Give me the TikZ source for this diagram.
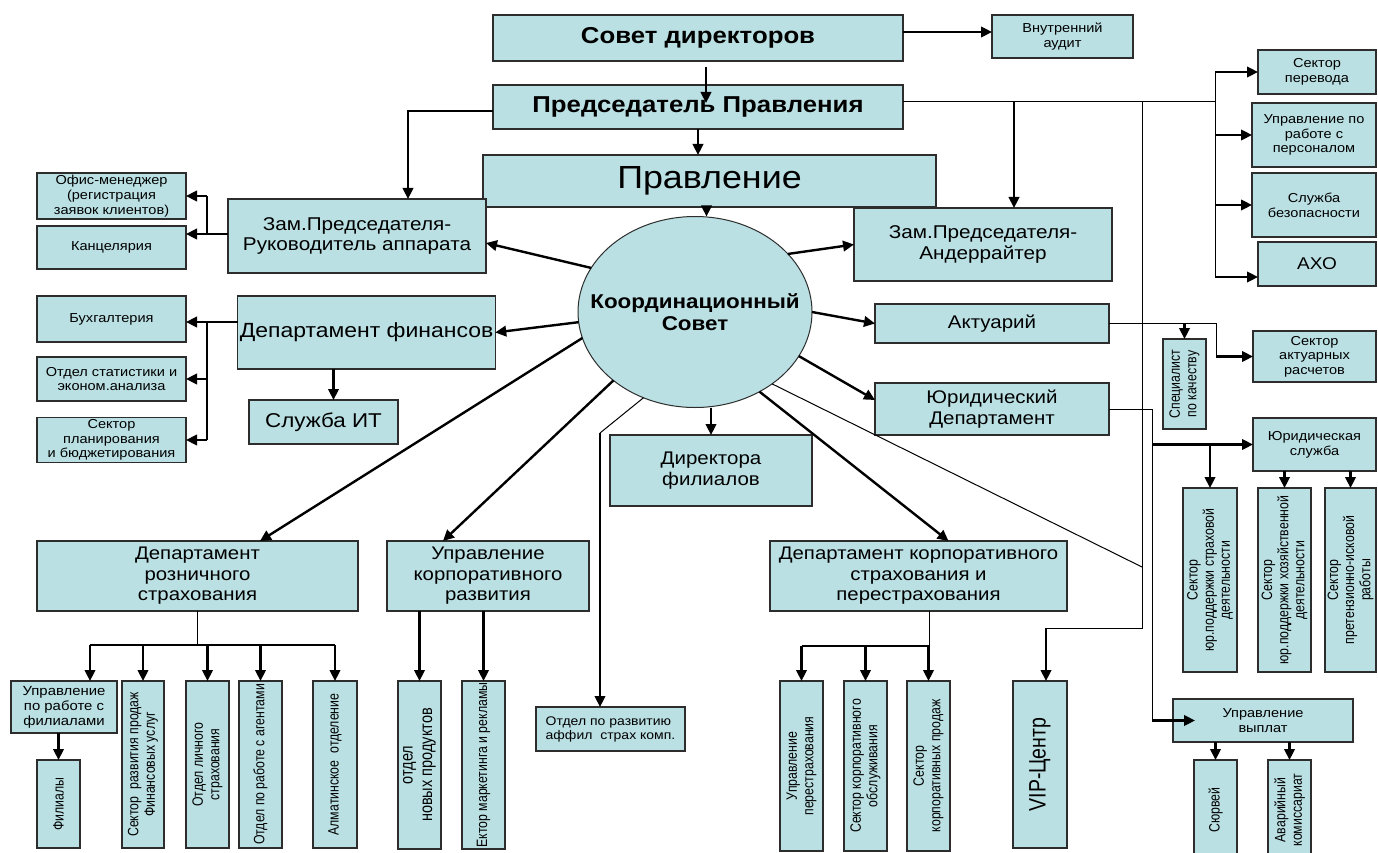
\documentclass[tikz,border=0pt]{standalone}
\usepackage{fontspec}
\setmainfont{Liberation Sans}[FakeStretch=1.12]
\newfontfamily\vfont{Liberation Sans}
\usetikzlibrary{arrows.meta,shapes.geometric}
\definecolor{boxfill}{RGB}{186,224,227}
\definecolor{edge}{RGB}{45,45,45}
\newcommand\fs[1]{\fontsize{#1}{\fpeval{#1*1.13}}\selectfont}
\newcommand\vfs[1]{\vfont\fontsize{#1}{\fpeval{#1*1.1}}\selectfont}
\tikzset{
  orgbox/.style={draw=edge, line width=1.2pt, fill=boxfill, inner sep=2pt, outer sep=0pt, align=center, font=\fs{13}},
  vtext/.style={rotate=90, yscale=1.22, align=center, inner sep=0pt, font=\vfs{12.3}},
  arr/.style={line width=2.4pt, -{Triangle[length=11pt,width=10.5pt]}},
  thinln/.style={line width=1pt},
  medln/.style={line width=1.6pt},
  thickln/.style={line width=2.4pt},
}
\newcommand\bx[7][]{\node[orgbox,#1,minimum width={#5-#3},minimum height={#6-#4}] (#2) at ({(#3+#5)/2},{(#4+#6)/2}) {#7};}
\newcommand\vbx[7][]{\node[orgbox,minimum width={#5-#3},minimum height={#6-#4}] (#2) at ({(#3+#5)/2},{(#4+#6)/2}) {};
  \node[vtext,#1] (#2-t) at (#2) {#7};}
\begin{document}
\begin{tikzpicture}[x=1pt,y=-1pt]
\fill[white] (0,0) rectangle (1378,853);
\useasboundingbox (0,0) rectangle (1378,853);
% top
\bx[font=\fs{23}\bfseries]{sov}{493}{15}{903}{61}{Совет директоров}
\bx{vaud}{992}{15}{1133}{58}{Внутренний\\аудит}
\bx[font=\fs{23}\bfseries]{pred}{493}{85}{903}{129}{Председатель Правления}
\bx[font=\fs{32}]{prav}{483}{155}{936}{207}{Правление}
\bx[font=\fs{18.5}]{zam1}{228}{199}{486}{273}{Зам.Председателя-\\Руководитель аппарата}
\bx[font=\fs{18.5}]{und}{854}{208}{1112}{281}{Зам.Председателя-\\Андеррайтер}
\bx{perev}{1258}{50}{1376}{94}{Сектор\\перевода}
\bx{pers}{1252}{103}{1376}{167}{Управление по\\работе с\\персоналом}
\bx{bez}{1252}{173}{1376}{237}{Служба\\безопасности}
\bx[font=\fs{17}]{axo}{1258}{242}{1376}{286}{АХО}
% left
\bx{ofis}{37}{173}{186}{219}{Офис-менеджер\\(регистрация\\заявок клиентов)}
\bx{kanc}{37}{226}{186}{269}{Канцелярия}
\bx{buh}{37}{296}{186}{342}{Бухгалтерия}
\bx{stat}{37}{357}{186}{401}{Отдел статистики и\\эконом.анализа}
\bx{plan}{37}{418}{186}{462}{Сектор\\планирования\\и бюджетирования}
\bx[font=\fs{20.5}]{depfin}{239}{296}{494}{369}{Департамент финансов}
\bx[font=\fs{20}]{it}{249}{400}{398}{444}{Служба ИТ}
% centre
\node[ellipse, draw=edge, line width=1pt, fill=boxfill, minimum width=234, minimum height=191, inner sep=0pt, outer sep=0pt] (kc) at (695,312) {};
\node[align=center, inner sep=0pt, font=\fs{20}\bfseries] (kc-t) at (kc) {Координационный\\Совет};
\bx[font=\fs{18.3}]{akt}{875}{304}{1109}{343}{Актуарий}
\bx[font=\fs{18.3}]{yur}{875}{383}{1109}{435}{Юридический\\Департамент}
\bx[font=\fs{18.3}]{dirf}{610}{435}{812}{506}{Директора\\филиалов}
% right
\vbx{spec}{1163}{339}{1206}{429}{Специалист\\по качеству}
\bx{sar}{1253}{331}{1376}{382}{Сектор\\актуарных\\расчетов}
\bx{jsl}{1253}{418}{1376}{471}{Юридическая\\служба}
\vbx[font=\vfont\fontsize{12.3}{13.2}\selectfont]{s1}{1183}{488}{1237}{672}{Сектор\\юр.поддержки страховой\\деятельности}
\vbx[font=\vfont\fontsize{12.3}{13.2}\selectfont]{s2}{1258}{488}{1311}{672}{Сектор\\юр.поддержки хозяйственной\\деятельности}
\vbx[font=\vfont\fontsize{12.3}{13.2}\selectfont]{s3}{1325}{488}{1376}{672}{Сектор\\претензионно-исковой\\работы}
\bx{vyp}{1173}{699}{1353}{742}{Управление\\выплат}
\vbx{sur}{1194}{760}{1237}{860}{Сюрвей}
\vbx{avar}{1268}{760}{1311}{860}{Аварийный\\комиссариат}
% bottom departments
\bx[font=\fs{18.2}]{droz}{37}{541}{358}{611}{Департамент\\розничного\\страхования}
\bx[font=\fs{18.2}]{ukr}{387}{541}{589}{611}{Управление\\корпоративного\\развития}
\bx[font=\fs{18.2}]{depkorp}{770}{541}{1067}{611}{Департамент корпоративного\\страхования и\\перестрахования}
\bx[font=\fs{12.5},align=left]{aff}{536}{707}{685}{751}{Отдел по развитию\\аффил~~страх комп.}
\bx[font=\fs{13.3}]{upf}{11}{681}{117}{733}{Управление\\по работе с\\филиалами}
\vbx{fil}{37}{760}{80}{848}{Филиалы}
\vbx{sek}{122}{681}{164}{848}{Сектор~~развития продаж\\Финансовых услуг}
\vbx{olich}{186}{681}{229}{848}{Отдел личного\\страхования}
\vbx{agent}{239}{681}{282}{848}{Отдел по работе с агентами}
\vbx{almat}{313}{681}{357}{848}{Алматинское~~отделение}
\vbx[font=\vfs{14.5}]{novp}{398}{681}{441}{849}{отдел\\новых продуктов}
\vbx{mark}{462}{681}{505}{849}{Ектор маркетинга и рекламы}
\vbx{upp}{780}{681}{823}{851}{Управление\\перестрахования}
\vbx{sko}{844}{681}{887}{851}{Сектор корпоративного\\обслуживания}
\vbx{skp}{907}{681}{950}{851}{Сектор\\корпоративных продаж}
\vbx[font=\vfs{19.5}]{vip}{1013}{681}{1067}{848}{VIP-Центр}
% ---------------- connectors
\draw[arr] ([yshift=6pt]sov.east) -- ([yshift=6pt]sov.east -| vaud.west);
\draw[arr] ([xshift=8pt,yshift=-6pt]sov.south) -- ([xshift=8pt,yshift=-18pt]pred.north);
\draw[arr] (pred.south) -- (pred.south |- prav.north);
\draw[arr] ([xshift=-3pt]prav.south) -- ([xshift=-3pt]prav.south |- kc.north);
\draw[arr] ([yshift=-4pt]pred.west) -| ([xshift=51pt]zam1.north);
% right bus
\coordinate (rb) at (1215,102);
\coordinate (axoin) at ([yshift=-13pt]axo.west);
\draw[thinln] ([yshift=5pt]pred.east) -- (rb);
\draw[thinln] (rb |- perev.west) -- (rb |- axoin);
\draw[arr] (rb |- perev.west) -- (perev.west);
\draw[arr] (rb |- pers.west) -- (pers.west);
\draw[arr] (rb |- bez.west) -- (bez.west);
\draw[arr] (rb |- axoin) -- (axoin);
\coordinate (undin) at ([xshift=31pt]und.north);
\draw[arr] (rb -| undin) -- (undin);
% long vertical to VIP
\coordinate (vt) at (1142,102);
\coordinate (vb) at (1142,628);
\coordinate (dg) at (1142,567);
\coordinate (vipin) at ([xshift=6pt]vip.north);
\draw[thinln] (vt) -- (vb) -- (vb -| vipin);
\draw[arr] (vb -| vipin) -- (vipin);
\draw[thinln] (kc.-43) -- (dg);
% actuary
\coordinate (sarin) at ([xshift=-37pt]sar.west);
\draw[thinln] (akt.east) -| (sarin);
\draw[arr] (sarin) -- (sar.west);
\draw[arr] (akt.east -| spec.north) -- (spec.north);
% legal
\coordinate (jv) at (1152,409);
\draw[thinln] (yur.east) -- (jv) -- (jv |- vyp.west);
\draw[arr] (jv |- vyp.west) -- ([xshift=22pt]vyp.west);
\draw[arr] (jv |- jsl.west) -- (jsl.west);
\draw[arr] (s1.north |- jsl.west) -- (s1.north);
\draw[arr] (s2.north |- jsl.south) -- (s2.north);
\draw[arr] (s3.north |- jsl.south) -- (s3.north);
\draw[arr] (sur.north |- vyp.south) -- (sur.north);
\draw[arr] (avar.north |- vyp.south) -- (avar.north);
% from coordination council
\draw[arr] (kc.157) -- ([yshift=-7pt]zam1.east);
\draw[arr] (kc.185) -- (depfin.east);
\draw[arr] (kc.32) -- (und.west);
\draw[arr] (kc.east) -- (akt.west);
\draw[arr] (kc.-23) -- ([yshift=9pt]yur.west);
\draw[arr] (kc.-51) -- ([xshift=30pt]depkorp.north);
\draw[arr] (kc.south -| dirf.north) -- (dirf.north);
\draw[arr] (kc.220) -- ([xshift=-45pt]ukr.north);
\draw[arr] (kc.193) -- ([xshift=62.5pt]droz.north);
\coordinate (affb) at (600,433);
\draw[thinln] (kc.239) -- (affb);
\draw[arr] (affb) -- (affb |- aff.north);
% deputy branch
\coordinate (zb) at (207,234);
\draw[thickln] (zam1.west |- zb) -- (zb);
\draw[medln] (zb) -- (zb |- ofis.east);
\draw[arr] (zb |- ofis.east) -- (ofis.east);
\draw[arr] (zb) -- (zb -| kanc.east);
% finance branch
\coordinate (fb) at (207,322);
\draw[thickln] (depfin.west |- fb) -- (fb);
\draw[medln] (fb) -- (fb |- plan.east);
\draw[arr] (fb) -- (fb -| buh.east);
\draw[arr] (fb |- stat.east) -- (stat.east);
\draw[arr] (fb |- plan.east) -- (plan.east);
\coordinate (itin) at ([xshift=10pt]it.north);
\draw[arr] (itin |- depfin.south) -- (itin);
% retail
\coordinate (rb2) at (197,645);
\coordinate (upfin) at ([xshift=26pt]upf.north);
\draw[thinln] (droz.south) -- (droz.south |- rb2);
\draw[medln] (rb2 -| upfin) -- (rb2 -| almat.north);
\draw[arr] (rb2 -| upfin) -- (upfin);
\draw[arr] (rb2 -| sek.north) -- (sek.north);
\draw[arr] (rb2 -| olich.north) -- (olich.north);
\draw[arr] (rb2 -| agent.north) -- (agent.north);
\draw[arr] (rb2 -| almat.north) -- (almat.north);
\draw[arr] (upf.south -| fil.north) -- (fil.north);
% corporate development
\draw[arr] (ukr.south -| novp.north) -- (novp.north);
\draw[arr] (ukr.south -| mark.north) -- (mark.north);
% corporate insurance
\coordinate (kb) at (929,646);
\draw[thinln] (depkorp.south -| kb) -- (kb);
\draw[medln] (kb -| upp.north) -- (kb);
\draw[arr] (kb -| upp.north) -- (upp.north);
\draw[arr] (kb -| sko.north) -- (sko.north);
\draw[arr] (kb -| skp.north) -- (skp.north);
\end{tikzpicture}
\end{document}
